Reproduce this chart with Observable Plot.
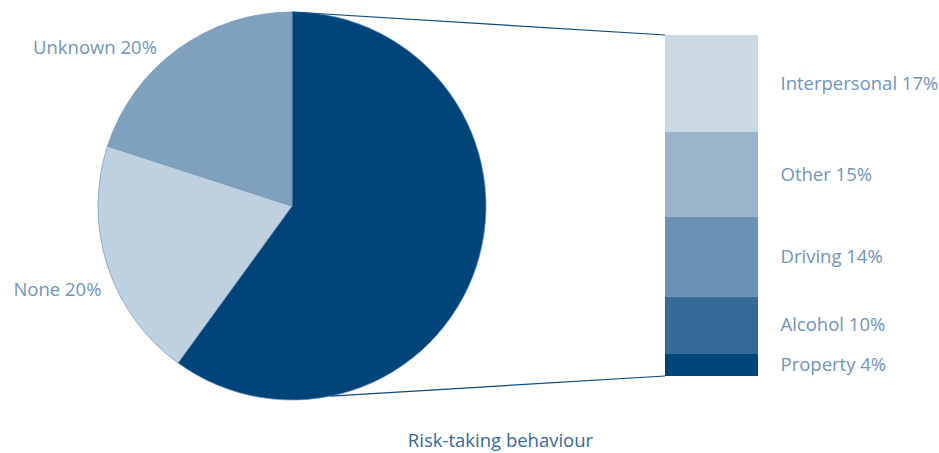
<!DOCTYPE html>
<html>
<head>
<meta charset="utf-8">
<script src="https://cdn.jsdelivr.net/npm/d3@7"></script>
<script src="https://cdn.jsdelivr.net/npm/@observablehq/plot@0.6"></script>
<style>
  html, body { margin: 0; padding: 0; background: #fff; }
  svg { display: block; }
</style>
</head>
<body>
<div id="chart"></div>
<script>
// Overall breakdown, drawn as the pie (clockwise from 12 o'clock)
const overallNames = ["Risk-taking behaviour", "None", "Unknown"];
const overallValues = [60, 20, 20];

// Breakdown of risk-taking behaviour, drawn as the stacked bar (top to bottom)
const riskNames = ["Interpersonal", "Other", "Driving", "Alcohol", "Property"];
const riskValues = [17, 15, 14, 10, 4];

const chartTitle = "Risk-taking behaviour";

const overall = overallNames.map((name, i) => ({name, value: overallValues[i]}));
const risk = riskNames.map((name, i) => ({name, value: riskValues[i]}));

// Layout
const W = 939, H = 453;
const pie = {cx: 292, cy: 206, r: 194};
const bar = {x1: 665, x2: 758, labelX: 780};
const labelColor = "#7194b9";
const font = "'Open Sans', 'DejaVu Sans', sans-serif";
const fontSize = 18.5;
// offsets of the pie labels from the arc midpoint of their slice
const pieLabelOffset = {"None": [-6, 24], "Unknown": [-21, -2]};

// Pie slices, their outside labels and the two connector lines to the bar
function pieMark(data) {
  return (index, scales, values, dimensions) => {
    const cx = scales.x(pie.cx), cy = pie.cy, r = pie.r;
    const arcs = d3.pie().value(d => d.value).sort(null)(data);
    const arc = d3.arc().innerRadius(0).outerRadius(r);
    const g = d3.create("svg:g");
    g.append("g")
      .attr("transform", `translate(${cx},${cy})`)
      .selectAll("path")
      .data(arcs)
      .join("path")
      .attr("d", arc)
      .attr("fill", d => scales.color(d.data.name))
      .attr("stroke", "#6f93b8")
      .attr("stroke-width", 0.7)
      .attr("stroke-linejoin", "round");

    // labels for the slices other than the one expanded into the bar
    g.append("g")
      .selectAll("text")
      .data(arcs.filter(d => d.data.name in pieLabelOffset))
      .join("text")
      .attr("x", d => cx + r * Math.sin((d.startAngle + d.endAngle) / 2) + pieLabelOffset[d.data.name][0])
      .attr("y", d => cy - r * Math.cos((d.startAngle + d.endAngle) / 2) + pieLabelOffset[d.data.name][1])
      .attr("text-anchor", "end")
      .attr("dy", "0.35em")
      .attr("fill", labelColor)
      .attr("font-family", font)
      .attr("font-size", fontSize)
      .text(d => `${d.data.name} ${d.data.value}%`);

    // connectors from the risk-taking slice to the top and bottom of the bar
    const top = arcs[0];
    const a0 = top.startAngle, a1 = top.startAngle + (top.endAngle - top.startAngle) * 0.78;
    const total = d3.sum(riskValues);
    const lines = [
      [[cx + r * Math.sin(a0), cy - r * Math.cos(a0)], [scales.x(bar.x1), scales.y(total)]],
      [[cx + r * Math.sin(a1), cy - r * Math.cos(a1)], [scales.x(bar.x1), scales.y(0)]]
    ];
    g.append("g")
      .selectAll("line")
      .data(lines)
      .join("line")
      .attr("x1", d => d[0][0]).attr("y1", d => d[0][1])
      .attr("x2", d => d[1][0]).attr("y2", d => d[1][1])
      .attr("stroke", "#0d4a7e")
      .attr("stroke-width", 1.2);
    return g.node();
  };
}

const chart = Plot.plot({
  width: W,
  height: H,
  margin: 0,
  style: {fontFamily: font, background: "#fff"},
  x: {type: "linear", domain: [0, W], range: [0, W], axis: null},
  y: {type: "linear", domain: [0, d3.sum(riskValues)], range: [376, 35], axis: null},
  color: {
    domain: [...overallNames, ...riskNames],
    range: ["#00457a", "#bfd1e0", "#7fa1bd", "#cbd9e4", "#9ab4cb", "#6a90b3", "#346a98", "#00457a"]
  },
  marks: [
    Plot.rectY(risk, Plot.stackY({
      x1: bar.x1, x2: bar.x2, y: "value", fill: "name", reverse: true
    })),
    Plot.text(risk, Plot.stackY({
      x: bar.labelX, y: "value", reverse: true,
      text: d => `${d.name} ${d.value}%`,
      textAnchor: "start", fill: labelColor, fontSize
    })),
    pieMark(overall),
    Plot.text([chartTitle], {
      x: 500, frameAnchor: "bottom", dy: -12, lineAnchor: "middle",
      text: d => d, fill: "#336a9b", fontSize
    })
  ]
});

document.getElementById("chart").append(chart);
</script>
</body>
</html>
